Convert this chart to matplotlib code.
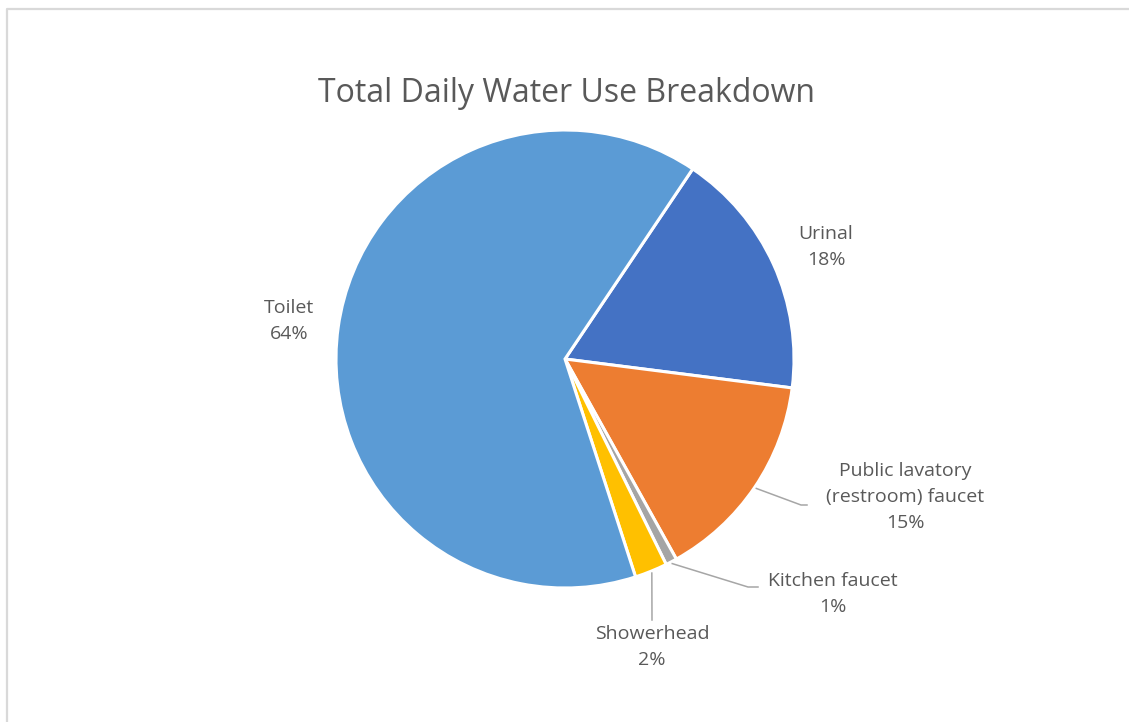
import numpy as np
import matplotlib
matplotlib.use("Agg")
import matplotlib.pyplot as plt

# data, clockwise from the Toilet/Urinal split
names = ["Urinal", "Public lavatory\n(restroom) faucet", "Kitchen faucet", "Showerhead", "Toilet"]
shares = [17.6, 14.9, 0.8, 2.3, 64.4]
pct_labels = ["18%", "15%", "1%", "2%", "64%"]
colors = ["#4472C4", "#ED7D31", "#A5A5A5", "#FFC000", "#5B9BD5"]

W, H = 1129, 722
fig = plt.figure(figsize=(W / 100, H / 100), dpi=100)
ax = fig.add_axes([0, 0, 1, 1])

# chart area border (Excel style)
ax.plot([7, 7, W], [0, H - 8.5, H - 8.5], color="#d9d9d9", lw=1.6, solid_capstyle="butt")

cx, cy, r = 565, H - 359, 229
start = 56.1
wedges, _ = ax.pie(shares, colors=colors, startangle=start, counterclock=False,
                   center=(cx, cy), radius=r, frame=True,
                   wedgeprops=dict(edgecolor="white", linewidth=2.2))
ax.set_xlim(0, W)
ax.set_ylim(0, H)
ax.set_aspect("equal")
ax.axis("off")

font = "Open Sans"
txt_col = "#595959"
ax.text(566, H - 93, "Total Daily Water Use Breakdown", ha="center", va="center",
        fontsize=23, color=txt_col, family=font)

# label centres (px, from top) and leader line ends
label_pos = [(826, 247), (905, 497), (833, 594), (652, 647), (289, 321)]
leader_end = [None, [(801, 505), (807, 505)], [(748, 587), (758, 587)], [(652, 620), (652, 620)], None]

for i, w in enumerate(wedges):
    lx, ly = label_pos[i]
    ax.text(lx, H - ly, names[i] + "\n" + pct_labels[i], ha="center", va="center",
            fontsize=14, color=txt_col, family=font, linespacing=1.6)
    if leader_end[i] is not None:
        mid = np.deg2rad((w.theta1 + w.theta2) / 2)
        x0 = cx + (r + 2) * np.cos(mid)
        y0 = cy + (r + 2) * np.sin(mid)
        pts = [(x0, y0)] + [(px, H - py) for px, py in leader_end[i]]
        xs, ys = zip(*pts)
        ax.plot(xs, ys, color="#a6a6a6", lw=1.1)

fig.savefig("out.png", dpi=100, facecolor="white")
